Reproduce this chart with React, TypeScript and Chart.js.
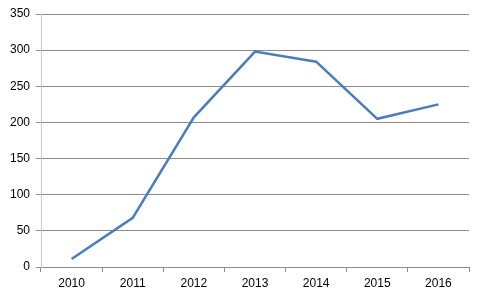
import React, { useEffect, useRef } from "react";
import { Chart, registerables } from "chart.js";

Chart.register(...registerables);

const years = ["2010", "2011", "2012", "2013", "2014", "2015", "2016"];
const values = [11, 68, 207, 298, 284, 205, 225];
const yTicks = [0, 50, 100, 150, 200, 250, 300, 350];

export default function App() {
  const ref = useRef<HTMLCanvasElement | null>(null);
  useEffect(() => {
    if (!ref.current) return;
    const gridColor = "#8c8c8c";
    const font = { family: "Liberation Sans", size: 12 };
    const chart = new Chart(ref.current, {
      type: "line",
      data: {
        labels: years,
        datasets: [
          {
            data: values,
            borderColor: "#4a7ebb",
            borderWidth: 2.5,
            pointRadius: 0,
            tension: 0,
            fill: false,
          },
        ],
      },
      options: {
        animation: false,
        responsive: false,
        maintainAspectRatio: false,
        layout: { padding: { left: 0, top: 14, right: 16, bottom: 0 } },
        plugins: { legend: { display: false }, tooltip: { enabled: false } },
        scales: {
          x: {
            offset: true,
            grid: {
              offset: true,
              drawOnChartArea: false,
              drawTicks: true,
              tickLength: 5,
              color: gridColor,
            },
            border: { color: gridColor },
            ticks: { color: "#000", font, padding: 4, maxRotation: 0 },
            afterFit: (s: any) => {
              s.height = 34;
            },
          },
          y: {
            min: 0,
            max: 350,
            afterBuildTicks: (s: any) => {
              s.ticks = yTicks.map((v) => ({ value: v }));
            },
            grid: { color: gridColor, tickLength: 5, drawTicks: true },
            border: { color: "#c8c8c8" },
            ticks: { color: "#000", font, padding: 6 },
            afterFit: (s: any) => {
              s.width = 41;
            },
          },
        },
      },
    });
    return () => chart.destroy();
  }, []);
  return (
    <div style={{ position: "fixed", left: 0, top: 0, width: 485, height: 301, background: "#fff" }}>
      <canvas ref={ref} width={485} height={301} style={{ width: 485, height: 301 }} />
    </div>
  );
}
